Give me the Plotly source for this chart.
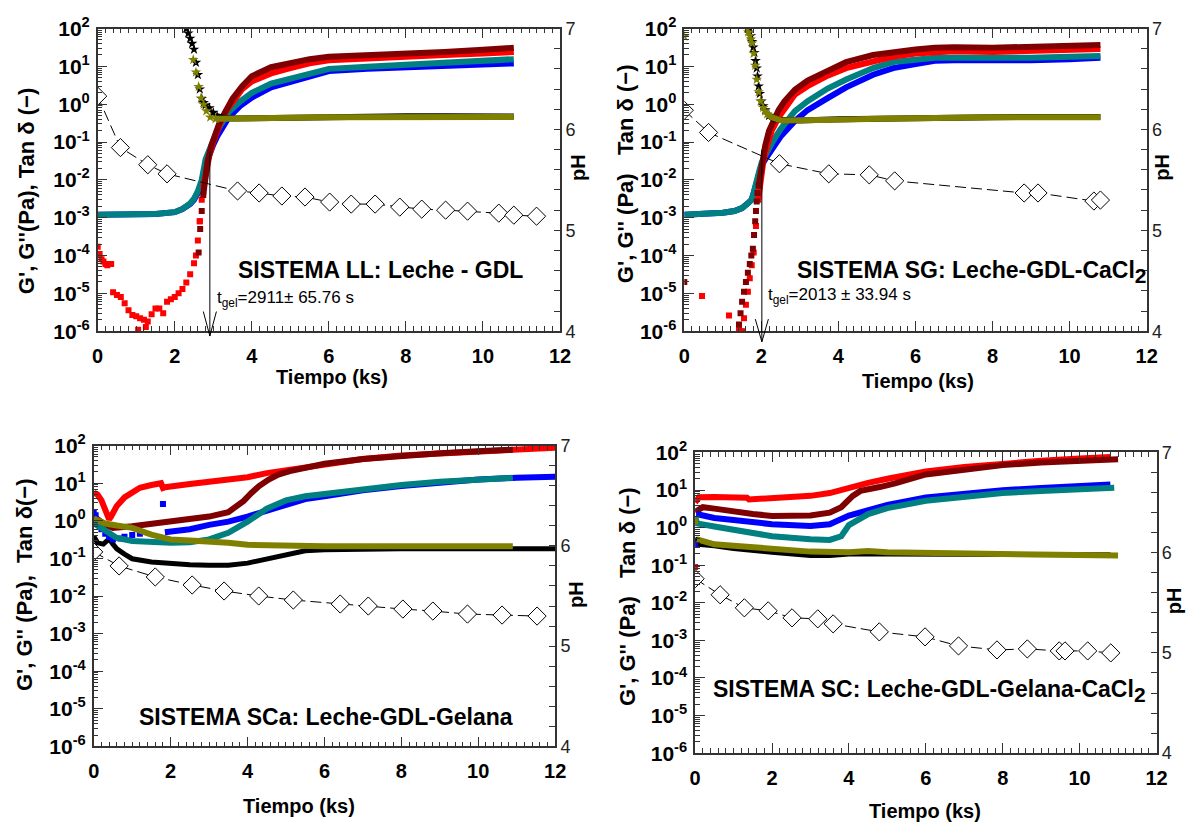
import plotly.graph_objects as go

W, H = 1204, 834

# ---------------- DATA ----------------
# Panel 1: SISTEMA LL
LL_red_early_t = [0.0, 0.05, 0.1, 0.15, 0.2, 0.25, 0.3, 0.35, 0.4, 0.5, 0.6, 0.7, 0.8, 0.9, 1.0, 1.05, 1.1, 1.2, 1.25, 1.3, 1.4, 1.5, 1.6, 1.7, 1.8, 1.9, 2.0, 2.1, 2.2, 2.3, 2.4, 2.5, 2.55, 2.6, 2.65]
LL_red_early = [1.7e-4, 1.1e-4, 8e-5, 7e-5, 6e-5, 5.5e-5, 6e-5, 6e-5, 1.07e-5, 9e-6, 8e-6, 5.5e-6, 3.6e-6, 2.7e-6, 2.5e-6, 1.1e-6, 2.2e-6, 2.0e-6, 1.3e-6, 1.8e-6, 2.8e-6, 4e-6, 4e-6, 3e-6, 6e-6, 7e-6, 8e-6, 1e-5, 1.3e-5, 1.95e-5, 3.2e-5, 6.3e-5, 1e-4, 2.5e-4, 8e-4]
LL_red_t = [2.65, 2.7, 2.75, 2.8, 2.9, 3.0, 3.1, 3.2, 3.35, 3.5, 3.75, 4.0, 4.5, 5.0, 5.5, 6.0, 7.0, 8.0, 9.0, 10.0, 10.8]
LL_red = [8e-4, 3e-3, 7e-3, 1.5e-2, 0.045, 0.1, 0.2, 0.35, 0.7, 1.2, 2.5, 4.0, 6.5, 9.0, 12.0, 14.5, 16.5, 18.5, 20.0, 22.0, 24.0]
LL_dred_t = [2.62, 2.66, 2.7, 2.74, 2.78, 2.85, 2.95, 3.05, 3.15, 3.3, 3.5, 3.75, 4.0, 4.5, 5.0, 5.5, 6.0, 7.0, 8.0, 9.0, 10.0, 10.8]
LL_dred = [1.2e-4, 5e-4, 1.5e-3, 4e-3, 1e-2, 0.03, 0.08, 0.16, 0.3, 0.6, 1.4, 3.0, 5.5, 9.5, 12.5, 15.5, 18.0, 19.5, 21.5, 24.0, 27.5, 31.0]
LL_teal_t = [0.0, 0.5, 1.0, 1.5, 2.0, 2.2, 2.4, 2.5, 2.6, 2.7, 2.8, 2.9, 3.0, 3.1, 3.25, 3.4, 3.7, 4.0, 4.5, 5.0, 5.5, 6.0, 7.0, 8.0, 9.0, 10.0, 10.8]
LL_teal = [1.2e-3, 1.2e-3, 1.2e-3, 1.25e-3, 1.4e-3, 1.7e-3, 2.4e-3, 3.2e-3, 5e-3, 1e-2, 0.035, 0.07, 0.11, 0.2, 0.38, 0.62, 1.2, 2.0, 3.5, 4.8, 6.8, 8.6, 9.8, 11.0, 12.3, 14.0, 15.5]
LL_blue_t = [0.0, 0.5, 1.0, 1.5, 2.0, 2.2, 2.4, 2.5, 2.6, 2.7, 2.8, 2.9, 3.0, 3.1, 3.25, 3.4, 3.7, 4.0, 4.5, 5.0, 5.5, 6.0, 7.0, 8.0, 9.0, 10.0, 10.8]
LL_blue = [1.2e-3, 1.2e-3, 1.2e-3, 1.25e-3, 1.4e-3, 1.7e-3, 2.3e-3, 3.0e-3, 4.5e-3, 8e-3, 0.025, 0.05, 0.085, 0.14, 0.27, 0.45, 0.9, 1.5, 2.8, 3.8, 5.3, 7.5, 8.6, 9.5, 10.5, 11.3, 12.0]
LL_black_t = [2.3, 2.35, 2.4, 2.45, 2.5, 2.55, 2.6, 2.65, 2.7, 2.75, 2.8, 2.9, 3.0, 3.1, 3.2, 3.3, 3.5, 4.0, 5.0, 6.0, 7.0, 8.0, 9.0, 10.0, 10.8]
LL_black = [100, 75, 55, 40, 28, 12.6, 6, 2.5, 1.4, 1.1, 0.95, 0.8, 0.6, 0.48, 0.44, 0.43, 0.42, 0.43, 0.45, 0.46, 0.47, 0.48, 0.48, 0.48, 0.47]
LL_olive_t = [2.48, 2.55, 2.62, 2.68, 2.75, 2.82, 2.92, 3.06, 3.5, 4.0, 5.0, 6.0, 7.0, 8.0, 9.0, 10.0, 10.8]
LL_olive = [15, 7, 2.9, 1.45, 0.98, 0.66, 0.45, 0.41, 0.41, 0.42, 0.44, 0.45, 0.46, 0.46, 0.46, 0.46, 0.46]
LL_pH_t = [0.0, 0.59, 1.30, 1.80, 3.63, 4.19, 4.78, 5.38, 6.02, 6.58, 7.20, 7.84, 8.41, 9.03, 9.60, 10.41, 10.80, 11.39]
LL_pH = [6.33, 5.82, 5.65, 5.56, 5.39, 5.37, 5.34, 5.33, 5.28, 5.26, 5.26, 5.23, 5.21, 5.20, 5.19, 5.17, 5.15, 5.14]
LL_tgel = 2.911

# Panel 2: SISTEMA SG
SG_red_early_t = [0.46, 1.16, 1.42, 1.46]
SG_red_early = [8.5e-6, 2.6e-6, 1.1e-6, 1.0e-6]
SG_red_t = [1.5, 1.55, 1.6, 1.65, 1.7, 1.75, 1.8, 1.86, 1.92, 1.98, 2.05, 2.15, 2.27, 2.45, 2.87, 3.2, 3.72, 4.2, 4.9, 5.4, 6.0, 6.5, 7.0, 8.0, 9.0, 10.0, 10.8]
SG_red = [1e-6, 2.2e-6, 5e-6, 1.1e-5, 2.5e-5, 5.5e-5, 1.2e-4, 6e-4, 3e-3, 1e-2, 0.03, 0.08, 0.2, 0.45, 1.8, 3.0, 5.7, 9.0, 14.0, 18.0, 22.0, 24.0, 25.0, 24.0, 25.0, 27.0, 29.0]
SG_dred_early_t = [0.0]
SG_dred_early = [2e-5]
SG_dred_t = [1.42, 1.46, 1.5, 1.55, 1.6, 1.65, 1.7, 1.74, 1.78, 1.81, 1.84, 1.86, 1.88, 1.9, 1.93, 2.0, 2.1, 2.2, 2.3, 2.45, 2.6, 2.87, 3.2, 3.72, 4.2, 4.9, 5.4, 6.0, 6.5, 7.0, 8.0, 9.0, 10.0, 10.8]
SG_dred = [1.5e-6, 3e-6, 6e-6, 1.1e-5, 2e-5, 3.5e-5, 6e-5, 1e-4, 1.5e-4, 3.5e-4, 8e-4, 1.5e-3, 2.7e-3, 4.5e-3, 7e-3, 0.025, 0.08, 0.2, 0.35, 0.7, 1.2, 2.4, 4.2, 7.8, 13.0, 20.0, 24.0, 28.0, 31.0, 32.0, 31.0, 32.0, 34.0, 37.0]
SG_teal_t = [0.0, 0.5, 1.0, 1.3, 1.5, 1.65, 1.75, 1.8, 1.86, 1.9, 1.95, 2.01, 2.1, 2.27, 2.5, 2.87, 3.2, 3.72, 4.2, 4.9, 5.42, 6.0, 6.5, 7.0, 8.0, 9.0, 10.0, 10.8]
SG_teal = [1.2e-3, 1.25e-3, 1.35e-3, 1.5e-3, 1.8e-3, 2.4e-3, 3e-3, 4.5e-3, 7e-3, 0.012, 0.018, 0.029, 0.045, 0.093, 0.22, 0.66, 1.2, 2.6, 4.5, 9.0, 13.0, 15.0, 17.0, 17.0, 16.5, 17.0, 18.0, 18.7]
SG_blue_t = [0.0, 0.5, 1.0, 1.3, 1.5, 1.65, 1.75, 1.8, 1.86, 1.9, 1.95, 2.01, 2.1, 2.27, 2.5, 2.87, 3.2, 3.72, 4.2, 4.9, 5.42, 6.0, 6.5, 7.0, 8.0, 9.0, 10.0, 10.8]
SG_blue = [1.2e-3, 1.25e-3, 1.35e-3, 1.5e-3, 1.8e-3, 2.4e-3, 3e-3, 4.5e-3, 7e-3, 0.011, 0.016, 0.025, 0.035, 0.063, 0.14, 0.36, 0.7, 1.45, 2.8, 6.0, 9.0, 11.5, 14.0, 14.5, 14.0, 14.5, 15.5, 17.0]
SG_black_t = [1.7, 1.73, 1.76, 1.79, 1.82, 1.85, 1.88, 1.9, 1.93, 1.96, 2.0, 2.05, 2.1, 2.2, 2.3, 2.5, 3.0, 4.0, 5.0, 6.0, 7.0, 8.0, 9.0, 10.0, 10.8]
SG_black = [100, 65, 45, 32, 23, 14, 9, 5.5, 3, 1.9, 1.2, 0.9, 0.7, 0.5, 0.42, 0.38, 0.37, 0.4, 0.42, 0.44, 0.45, 0.45, 0.46, 0.46, 0.46]
SG_olive_early_t = [0.0]
SG_olive_early = [62]
SG_olive_t = [1.63, 1.66, 1.7, 1.73, 1.76, 1.8, 1.84, 1.88, 1.93, 1.98, 2.05, 2.1, 2.15, 2.27, 2.52, 3.0, 4.0, 5.0, 6.0, 7.0, 8.0, 9.0, 10.0, 10.8]
SG_olive = [100, 80, 65, 52, 41, 22, 10.5, 4.5, 2.1, 1.2, 0.81, 0.65, 0.55, 0.45, 0.37, 0.37, 0.39, 0.41, 0.43, 0.44, 0.45, 0.45, 0.45, 0.45]
SG_pH_t = [0.0, 0.63, 2.47, 3.75, 4.80, 5.46, 8.82, 9.18, 10.63, 10.80]
SG_pH = [6.19, 5.97, 5.66, 5.56, 5.55, 5.49, 5.37, 5.37, 5.29, 5.30]
SG_tgel = 2.013

# Panel 3: SISTEMA SCa
SCa_red_t = [0.0, 0.1, 0.2, 0.25, 0.3, 0.35, 0.4, 0.45, 0.6, 0.8, 1.0, 1.2, 1.5, 1.75, 1.8, 1.85, 2.5, 3.0, 3.5, 4.0, 4.5, 5.0, 5.5, 6.0, 7.0, 8.0, 9.0, 10.0, 11.0, 12.0]
SCa_red = [5.6, 5.0, 3.5, 2.6, 1.8, 1.3, 1.1, 1.3, 2.5, 4.2, 5.8, 7.6, 9.0, 10.0, 7.5, 7.8, 9.5, 11.0, 12.5, 14.5, 18.6, 22.0, 27.0, 33.0, 44.0, 55.0, 63.0, 72.0, 80.0, 88.0]
SCa_dred_t = [0.0, 0.1, 0.3, 0.5, 1.0, 1.5, 2.0, 2.5, 3.0, 3.5, 3.7, 3.9, 4.1, 4.3, 4.55, 4.8, 5.1, 5.4, 6.0, 7.0, 8.0, 9.0, 10.0, 10.9]
SCa_dred = [1.4, 1.1, 0.78, 0.65, 0.72, 0.85, 0.95, 1.1, 1.3, 1.7, 2.3, 3.4, 5.5, 8.4, 12.5, 17.0, 21.0, 25.0, 33.0, 44.0, 55.0, 63.0, 71.0, 78.0]
SCa_blue_early_t = [0.0, 0.05, 0.1, 0.15, 0.2, 0.3, 0.4, 0.5, 0.7, 0.8, 1.0, 1.2, 1.8]
SCa_blue_early = [1.7, 1.4, 1.0, 0.75, 0.6, 0.45, 0.37, 0.32, 0.34, 0.38, 0.42, 0.45, 2.8]
SCa_blue_t = [1.85, 2.5, 3.0, 3.5, 4.0, 4.5, 5.0, 5.5, 6.0, 7.0, 8.0, 9.0, 10.0, 11.0, 12.0]
SCa_blue = [0.5, 0.6, 0.78, 0.95, 1.3, 1.9, 2.8, 3.8, 4.5, 6.5, 8.5, 10.5, 12.6, 14.0, 14.8]
SCa_teal_t = [0.0, 0.1, 0.3, 0.6, 1.0, 1.5, 2.0, 2.5, 3.0, 3.5, 4.0, 4.5, 5.0, 5.5, 6.0, 7.0, 8.0, 9.0, 10.0, 10.9]
SCa_teal = [0.87, 0.75, 0.55, 0.35, 0.29, 0.27, 0.26, 0.27, 0.32, 0.48, 0.95, 2.1, 3.5, 4.5, 5.2, 7.0, 9.0, 11.0, 12.6, 14.0]
SCa_olive_t = [0.0, 0.3, 0.6, 1.0, 1.5, 2.0, 2.5, 3.0, 3.5, 4.0, 4.5, 5.0, 6.0, 7.0, 8.0, 9.0, 10.0, 10.9]
SCa_olive = [1.15, 0.85, 0.75, 0.65, 0.43, 0.32, 0.3, 0.29, 0.26, 0.23, 0.22, 0.21, 0.21, 0.21, 0.21, 0.21, 0.21, 0.21]
SCa_black_t = [0.0, 0.1, 0.25, 0.4, 0.5, 0.6, 0.8, 1.0, 1.5, 2.0, 2.5, 3.0, 3.5, 4.0, 4.5, 5.0, 5.5, 6.0, 7.0, 8.0, 9.0, 10.0, 11.0, 12.0]
SCa_black = [0.39, 0.26, 0.24, 0.33, 0.24, 0.18, 0.13, 0.098, 0.08, 0.072, 0.068, 0.066, 0.066, 0.075, 0.098, 0.13, 0.16, 0.17, 0.18, 0.18, 0.18, 0.18, 0.18, 0.18]
SCa_pH_t = [0.0, 0.66, 1.60, 2.56, 3.39, 4.29, 5.19, 6.41, 7.14, 8.04, 8.82, 9.72, 10.62, 11.53]
SCa_pH = [5.94, 5.80, 5.69, 5.61, 5.55, 5.50, 5.46, 5.42, 5.40, 5.37, 5.35, 5.32, 5.31, 5.30]

# Panel 4: SISTEMA SC
SC_red_early_t = [0.0]
SC_red_early = [0.089]
SC_red_t = [0.0, 0.1, 0.5, 1.0, 1.35, 1.4, 2.0, 2.5, 3.0, 3.5, 4.0, 4.5, 5.0, 6.0, 7.0, 8.0, 9.0, 10.0, 10.8]
SC_red = [4.7, 6.4, 6.5, 6.3, 6.2, 5.6, 6.0, 6.4, 7.0, 8.3, 11.5, 15.5, 20.0, 31.0, 41.0, 51.0, 60.0, 69.0, 76.0]
SC_dred_t = [0.0, 0.2, 0.5, 1.0, 1.5, 2.0, 2.5, 3.0, 3.5, 3.8, 4.1, 4.3, 4.8, 5.2, 6.0, 7.0, 8.0, 9.0, 10.0, 11.0]
SC_dred = [2.6, 3.5, 3.2, 2.6, 2.3, 2.05, 2.0, 2.1, 2.5, 3.5, 7.0, 9.5, 12.0, 15.0, 26.0, 36.0, 46.0, 54.0, 60.0, 66.0]
SC_blue_early_t = [0.0]
SC_blue_early = [0.36]
SC_blue_t = [0.03, 0.5, 1.0, 2.0, 3.0, 3.5, 4.0, 4.5, 5.0, 6.0, 7.0, 8.0, 9.0, 10.0, 10.8]
SC_blue = [2.3, 1.8, 1.6, 1.23, 1.1, 1.23, 2.1, 3.0, 4.0, 6.3, 8.2, 9.9, 11.3, 12.6, 14.0]
SC_teal_t = [0.0, 0.05, 0.5, 1.0, 2.0, 3.0, 3.5, 3.8, 4.0, 4.5, 5.0, 6.0, 7.0, 8.0, 9.0, 10.0, 10.9]
SC_teal = [2.0, 1.3, 1.07, 0.87, 0.59, 0.49, 0.47, 0.59, 1.17, 2.3, 3.3, 5.2, 6.8, 8.3, 9.5, 10.5, 11.5]
SC_olive_early_t = [0.0]
SC_olive_early = [1.45]
SC_olive_t = [0.05, 0.5, 1.0, 2.0, 3.0, 4.0, 4.5, 5.0, 6.0, 7.0, 8.0, 9.0, 10.0, 11.0]
SC_olive = [0.49, 0.36, 0.33, 0.27, 0.23, 0.22, 0.24, 0.22, 0.21, 0.2, 0.2, 0.19, 0.19, 0.18]
SC_black_t = [0.0, 0.1, 0.5, 1.0, 2.0, 3.0, 3.5, 4.0, 5.0, 6.0, 7.0, 8.0, 9.0, 10.0, 10.8]
SC_black = [0.54, 0.36, 0.33, 0.28, 0.22, 0.18, 0.18, 0.2, 0.2, 0.2, 0.2, 0.19, 0.19, 0.19, 0.19]
SC_pH_t = [0.0, 0.65, 1.28, 1.90, 2.52, 3.19, 3.59, 4.79, 5.98, 6.85, 7.85, 8.64, 9.47, 9.62, 10.21, 10.81]
SC_pH = [5.74, 5.58, 5.45, 5.42, 5.35, 5.34, 5.29, 5.21, 5.16, 5.07, 5.03, 5.04, 5.02, 5.02, 5.02, 5.00]

log_ticks = [1e-6, 1e-5, 1e-4, 1e-3, 1e-2, 1e-1, 1e0, 1e1, 1e2]
log_ticktext = ["10<sup>-6</sup>", "10<sup>-5</sup>", "10<sup>-4</sup>", "10<sup>-3</sup>", "10<sup>-2</sup>",
                "10<sup>-1</sup>", "10<sup>0</sup>", "10<sup>1</sup>", "10<sup>2</sup>"]
x_ticks = [0, 2, 4, 6, 8, 10, 12]
pH_ticks = [4, 5, 6, 7]

# ---------------- STYLE ----------------
RED = "#ff0000"
DRED = "#7f0000"
BLUE = "#0000ff"
TEAL = "#008080"
OLIVE = "#808000"
BLACK = "#000000"
AX = "#333333"
FONT = "Liberation Sans, Arial, sans-serif"

# panel pixel boxes: left, right, top, bottom
boxes = [(93, 562, 15, 327), (688, 1157, 15, 327), (89, 557, 445, 755), (699, 1167, 452, 762)]

fig = go.Figure()


def axnames(i):
    xs = "x" if i == 0 else f"x{i+1}"
    ya = "y" if i == 0 else f"y{2*i+1}"
    yb = f"y{2*i+2}"
    return xs, ya, yb


def line(i, t, v, color, width=6):
    xs, ya, yb = axnames(i)
    fig.add_trace(go.Scatter(x=t, y=v, mode="lines", xaxis=xs, yaxis=ya,
                             line=dict(color=color, width=width), hoverinfo="skip"))


def marks(i, t, v, color, symbol="square", size=6):
    xs, ya, yb = axnames(i)
    fig.add_trace(go.Scatter(x=t, y=v, mode="markers", xaxis=xs, yaxis=ya,
                             marker=dict(color=color, symbol=symbol, size=size, line=dict(width=0)),
                             hoverinfo="skip"))


def gline(i, t, v, color, thr):
    """points below thr drawn as square dots, the rest as a thick line"""
    tm = [a for a, b in zip(t, v) if b < thr]
    vm = [b for b in v if b < thr]
    if tm:
        marks(i, tm, vm, color, size=6)
    k = max(0, len(tm) - 1)
    line(i, t[k:], v[k:], color)


def stars(i, t, v, color, tmax):
    xs, ya, yb = axnames(i)
    tt = [a for a in t if a <= tmax]
    vv = [b for a, b in zip(t, v) if a <= tmax]
    fig.add_trace(go.Scatter(x=tt, y=vv, mode="markers", xaxis=xs, yaxis=ya,
                             marker=dict(color=color, symbol="star", size=8, line=dict(width=0)),
                             hoverinfo="skip"))
    tl = [a for a in t if a >= tmax]
    vl = [b for a, b in zip(t, v) if a >= tmax]
    if len(tl) > 1:
        line(i, tl, vl, color)


def ph(i, t, v):
    xs, ya, yb = axnames(i)
    fig.add_trace(go.Scatter(x=t, y=v, mode="lines+markers", xaxis=xs, yaxis=yb,
                             line=dict(color="black", width=1, dash="11px,5px"),
                             marker=dict(symbol="diamond", size=14, color="white",
                                         line=dict(color="black", width=1)),
                             hoverinfo="skip"))


# Panel 1
marks(0, LL_red_early_t, LL_red_early, RED, size=6)
line(0, LL_blue_t, LL_blue, BLUE)
line(0, LL_teal_t, LL_teal, TEAL)
gline(0, LL_red_t, LL_red, RED, 0.01)
gline(0, LL_dred_t, LL_dred, DRED, 0.01)
stars(0, LL_black_t, LL_black, BLACK, 3.1)
stars(0, LL_olive_t, LL_olive, OLIVE, 3.06)
ph(0, LL_pH_t, LL_pH)

# Panel 2
marks(1, SG_red_early_t, SG_red_early, RED, size=6)
marks(1, SG_dred_early_t, SG_dred_early, DRED, size=6)
line(1, SG_blue_t, SG_blue, BLUE)
line(1, SG_teal_t, SG_teal, TEAL)
gline(1, SG_red_t, SG_red, RED, 0.01)
gline(1, SG_dred_t, SG_dred, DRED, 0.01)
stars(1, SG_black_t, SG_black, BLACK, 2.2)
stars(1, SG_olive_early_t, SG_olive_early, OLIVE, 0.0)
stars(1, SG_olive_t, SG_olive, OLIVE, 2.15)
ph(1, SG_pH_t, SG_pH)

# Panel 3
line(2, SCa_black_t, SCa_black, BLACK, width=5)
line(2, SCa_red_t, SCa_red, RED)
line(2, SCa_dred_t, SCa_dred, DRED)
marks(2, SCa_blue_early_t, SCa_blue_early, BLUE, size=6)
line(2, SCa_blue_t, SCa_blue, BLUE)
line(2, SCa_teal_t, SCa_teal, TEAL)
line(2, SCa_olive_t, SCa_olive, OLIVE)
ph(2, SCa_pH_t, SCa_pH)

# Panel 4
line(3, SC_black_t, SC_black, BLACK, width=5)
line(3, SC_red_t, SC_red, RED)
marks(3, SC_red_early_t, SC_red_early, RED, size=6)
line(3, SC_dred_t, SC_dred, DRED)
line(3, SC_blue_t, SC_blue, BLUE)
marks(3, SC_blue_early_t, SC_blue_early, BLUE, size=6)
line(3, SC_teal_t, SC_teal, TEAL)
marks(3, SC_olive_early_t, SC_olive_early, OLIVE, size=6)
line(3, SC_olive_t, SC_olive, OLIVE)
ph(3, SC_pH_t, SC_pH)

# ---------------- AXES ----------------
layout = dict(width=W, height=H, margin=dict(l=0, r=0, t=0, b=0), autosize=False,
              paper_bgcolor="white", plot_bgcolor="white", showlegend=False,
              font=dict(family=FONT, color="black"))

for i, (l, r, t, b) in enumerate(boxes):
    xs, ya, yb = axnames(i)
    xk = "xaxis" if i == 0 else f"xaxis{i+1}"
    yak = "yaxis" if i == 0 else f"yaxis{2*i+1}"
    ybk = f"yaxis{2*i+2}"
    layout[xk] = dict(domain=[l / W, r / W], anchor=ya, range=[0, 12], tickmode="array", tickvals=x_ticks,
                      ticks="inside", ticklen=10, tickwidth=1.2, tickcolor=AX,
                      showline=True, linecolor=AX, linewidth=1.5, mirror="ticks",
                      minor=dict(dtick=0.2, tick0=0, ticks="inside", ticklen=5, tickwidth=1, tickcolor=AX),
                      tickfont=dict(size=20, family=FONT, weight="bold"), ticklabelstandoff=6,
                      showgrid=False, zeroline=False)
    layout[yak] = dict(domain=[1 - b / H, 1 - t / H], anchor=xs, type="log", range=[-6, 2],
                       tickmode="array", tickvals=log_ticks, ticktext=log_ticktext,
                       ticks="inside", ticklen=10, tickwidth=1.2, tickcolor=AX,
                       showline=True, linecolor=AX, linewidth=1.5,
                       minor=dict(dtick="D1", ticks="inside", ticklen=5, tickwidth=1, tickcolor=AX),
                       tickfont=dict(size=21, family=FONT, weight="bold"), ticklabelstandoff=2,
                       showgrid=False, zeroline=False)
    layout[ybk] = dict(overlaying=ya, side="right", anchor=xs, range=[4, 7], tickmode="array", tickvals=pH_ticks,
                       ticks="inside", ticklen=6, tickwidth=1, tickcolor=AX,
                       showline=True, linecolor=AX, linewidth=1.5,
                       minor=dict(dtick=0.2, tick0=4, ticks="inside", ticklen=6, tickwidth=1, tickcolor=AX),
                       tickfont=dict(size=18, family=FONT, color="#222"),
                       showgrid=False, zeroline=False)

# ---------------- ANNOTATIONS ----------------
def px(xp, yp):
    return xp / W, 1 - yp / H

ann = []

def text(xp, yp, s, size, xanchor="center", angle=0, bold=True):
    x, y = px(xp, yp)
    ann.append(dict(x=x, y=y, xref="paper", yref="paper", text=(f"<b>{s}</b>" if bold else s),
                    showarrow=False, xanchor=xanchor, yanchor="middle", textangle=angle,
                    font=dict(size=size, family=FONT, color="black")))

NB = "\u00a0"
SUB2 = "<sub><span style='font-size:21px'>2</span></sub>"
# x titles
text(331, 374, "Tiempo (ks)", 20)
text(925, 378, "Tiempo (ks)", 20)
text(297, 816, "Tiempo (ks)", 20)
text(932, 822, "Tiempo (ks)", 20)
# left y titles
text(21, 183, "G', G''(Pa), Tan δ (−)", 22, angle=-90)
text(628, 165, f"G', G'' (Pa){NB}{NB}{NB}Tan δ (−)", 22, angle=-90)
text(19, 588, f"G', G'' (Pa),{NB}{NB}Tan δ(−)", 22, angle=-90)
text(631, 601, f"G', G'' (Pa){NB}{NB}{NB}Tan δ (−)", 22, angle=-90)
# pH titles
text(580, 158, "pH", 20, angle=-90)
text(1173, 158, "pH", 20, angle=-90)
text(578, 598, "pH", 20, angle=-90)
text(1185, 605, "pH", 20, angle=-90)
# system labels
text(233, 264, "SISTEMA LL: Leche - GDL", 23, xanchor="left")
text(800, 266, "SISTEMA SG: Leche-GDL-CaCl" + SUB2, 23, xanchor="left")
text(133, 725, "SISTEMA SCa: Leche-GDL-Gelana", 23, xanchor="left")
text(715, 698, "SISTEMA SC: Leche-GDL-Gelana-CaCl" + SUB2, 23, xanchor="left")
# gel times
text(212, 294, "t<sub>gel</sub>=2911± 65.76 s", 17, xanchor="left", bold=False)
text(771, 291, "t<sub>gel</sub>=2013 ± 33.94 s", 17, xanchor="left", bold=False)

layout["annotations"] = ann

# gel-time arrows (vertical line + open arrow head)
shapes = []
for xs_, yref_, tg, ytop, head_top, tip in [("x", "y domain", LL_tgel, 0.593, 0.065, -0.016),
                                             ("x2", "y3 domain", SG_tgel, 0.60, 0.04, -0.035)]:
    shapes.append(dict(type="line", xref=xs_, yref=yref_, x0=tg, x1=tg, y0=ytop, y1=tip,
                       line=dict(color="black", width=1)))
    shapes.append(dict(type="line", xref=xs_, yref=yref_, x0=tg - 0.17, x1=tg, y0=head_top, y1=tip,
                       line=dict(color="black", width=1)))
    shapes.append(dict(type="line", xref=xs_, yref=yref_, x0=tg + 0.17, x1=tg, y0=head_top, y1=tip,
                       line=dict(color="black", width=1)))
layout["shapes"] = shapes

fig.update_layout(**layout)
fig.write_html("out.html")
